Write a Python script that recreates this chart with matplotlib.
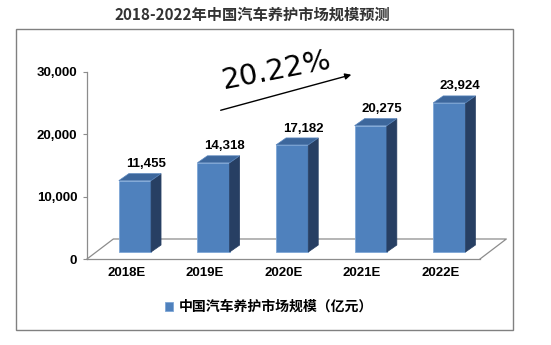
import matplotlib
matplotlib.use("Agg")
import matplotlib.pyplot as plt
import matplotlib.patches as patches
import numpy as np

# data
years = ["2018E", "2019E", "2020E", "2021E", "2022E"]
market_size = [11455, 14318, 17182, 20275, 23924]
series_name = "中国汽车养护市场规模（亿元）"
title = "2018-2022年中国汽车养护市场规模预测"
cagr_text = "20.22%"

CJK = ["Noto Sans CJK SC", "DejaVu Sans"]
NUM = ["Liberation Sans", "DejaVu Sans"]

FRONT = "#4F81BD"
TOP = "#3D679C"
SIDE = "#273F63"
GRID = "#8c8c8c"

W, H = 551, 345
fig = plt.figure(figsize=(W / 100, H / 100), dpi=100)
ax = fig.add_axes([87 / W, (H - 259) / H, 393 / W, 187 / H])

x = np.arange(len(years))
width = 0.41
# depth offsets (category units, value units)
bdx, bdy = 0.11, 1120      # bar plane behind the front plane
sdx, sdy = 0.127, 1120     # bar depth
fdx, fdy = 0.335, 3210     # floor depth

ax.set_xlim(-0.5, len(years) - 0.5)
ax.set_ylim(0, 30000)

# floor outline
x0, x1 = -0.5, len(years) - 0.5
ax.plot([x0, x0 + fdx, x1 + fdx, x1], [0, fdy, fdy, 0],
        color=GRID, lw=0.9, clip_on=False, zorder=1)

# bars: front faces
bars = ax.bar(x + bdx, market_size, width, bottom=bdy, color=FRONT,
              edgecolor="#7ea6d6", linewidth=0.6, label=series_name,
              clip_on=False, zorder=3)

for xi, v in zip(x, market_size):
    left = xi + bdx - width / 2
    right = xi + bdx + width / 2
    top = v + bdy
    side = patches.Polygon([[right, bdy], [right + sdx, bdy + sdy],
                            [right + sdx, top + sdy], [right, top]],
                           closed=True, facecolor=SIDE, edgecolor=SIDE,
                           lw=0.5, clip_on=False, zorder=3)
    cap = patches.Polygon([[left, top], [right, top],
                           [right + sdx, top + sdy], [left + sdx, top + sdy]],
                          closed=True, facecolor=TOP, edgecolor="#5a86bd",
                          lw=0.5, clip_on=False, zorder=3)
    ax.add_patch(side)
    ax.add_patch(cap)
    ax.text(xi + bdx + 0.14, top + sdy + 550, f"{v:,}", ha="center",
            va="bottom", fontsize=9.5, fontweight="bold", family=NUM,
            zorder=4)

# axes styling
for s in ["top", "right"]:
    ax.spines[s].set_visible(False)
ax.spines["left"].set_color(GRID)
ax.spines["bottom"].set_color(GRID)
ax.spines["left"].set_linewidth(0.9)
ax.spines["bottom"].set_linewidth(0.9)
ax.set_yticks([0, 10000, 20000, 30000])
ax.set_yticklabels([f"{t:,}" for t in [0, 10000, 20000, 30000]])
ax.set_xticks(x)
ax.set_xticklabels(years)
ax.tick_params(axis="y", length=3, color=GRID, pad=4)
ax.tick_params(axis="x", length=0, pad=6)
for lab in ax.get_xticklabels() + ax.get_yticklabels():
    lab.set_fontsize(9.5)
    lab.set_fontweight("bold")
    lab.set_family(NUM)

# growth annotation
fig.text(277 / W, (H - 71) / H, cagr_text, ha="center", va="center",
         rotation=11, fontsize=21, family="DejaVu Sans", color="black")
ax.annotate("", xy=(354 / W, (H - 74) / H), xytext=(218 / W, (H - 111) / H),
            xycoords="figure fraction", textcoords="figure fraction",
            arrowprops=dict(arrowstyle="-|>", color="black", lw=1.0,
                            mutation_scale=9))

# title and frame
fig.text(252 / W, (H - 15) / H, title, ha="center", va="center",
         fontsize=11, fontweight="bold", family=CJK, color="#333333")
fig.patches.append(patches.Rectangle((16 / W, (H - 330) / H), 497 / W, 301 / H,
                                     transform=fig.transFigure, fill=False,
                                     edgecolor="#808080", lw=1.0))

leg = fig.legend(handles=[bars], loc="center", bbox_to_anchor=(269 / W, (H - 307) / H),
                 frameon=False, handlelength=0.6, handleheight=0.6,
                 handletextpad=0.4, prop={"family": CJK, "size": 10, "weight": "bold"})

fig.savefig("out.png", dpi=100)
